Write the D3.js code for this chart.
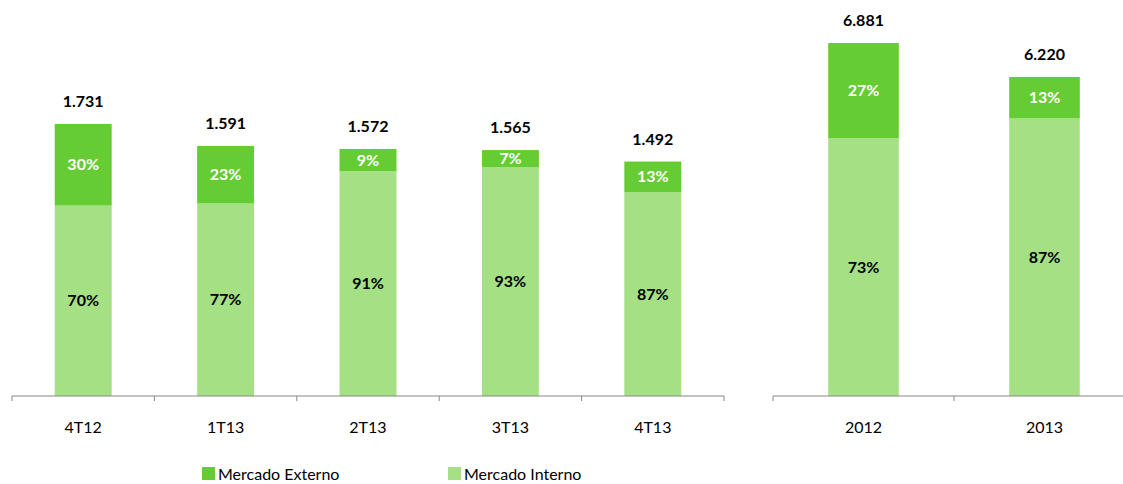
<!DOCTYPE html>
<html>
<head>
<meta charset="utf-8">
<script src="https://cdn.jsdelivr.net/npm/d3@7"></script>
<style>
  body { margin: 0; background: #fff; overflow: hidden; }
  text { font-family: Lato, Carlito, 'Open Sans', sans-serif; }
</style>
</head>
<body>
<div id="container"></div>
<script>
// quarterly panel
const quarters = ['4T12', '1T13', '2T13', '3T13', '4T13'];
const quarterTotals = [1.731, 1.591, 1.572, 1.565, 1.492];
const quarterExterno = [30, 23, 9, 7, 13];
const quarterInterno = [70, 77, 91, 93, 87];
const quarterTotalLabels = ['1.731', '1.591', '1.572', '1.565', '1.492'];

// yearly panel
const years = ['2012', '2013'];
const yearTotals = [6.881, 6.220];
const yearExterno = [27, 13];
const yearInterno = [73, 87];
const yearTotalLabels = ['6.881', '6.220'];

const series = ['Mercado Externo', 'Mercado Interno'];

const width = 1123;
const height = 484;
const baseY = 396;

//colors
const darkGreen = '#66cc33';
const lightGreen = '#a6e085';
const axisColor = '#868686';

let svg = d3.select('#container')
  .append('svg')
  .attr('width', width)
  .attr('height', height);

function panel(cats, totals, ext, int, totalLabels, x0, x1, yMax, barPad){
  let x = d3.scaleBand().domain(cats).range([x0, x1]).paddingInner(barPad).paddingOuter(barPad/2);
  let xAxisScale = d3.scaleBand().domain(cats).range([x0, x1]);
  let y = d3.scaleLinear().domain([0, yMax]).range([baseY, 0]);

  let rows = cats.map(function(c, i){
    let interno = totals[i]*int[i]/100;
    return {cat: c, total: totals[i], interno: interno, ext: ext[i], int: int[i], label: totalLabels[i]};
  });

  let g = svg.append('g');

  // interno (bottom)
  g.selectAll('.interno').data(rows).enter()
    .append('rect')
    .attr('class', 'interno')
    .attr('x', d => x(d.cat))
    .attr('width', x.bandwidth())
    .attr('y', d => y(d.interno))
    .attr('height', d => baseY - y(d.interno))
    .style('fill', lightGreen);

  // externo (top)
  g.selectAll('.externo').data(rows).enter()
    .append('rect')
    .attr('class', 'externo')
    .attr('x', d => x(d.cat))
    .attr('width', x.bandwidth())
    .attr('y', d => y(d.total))
    .attr('height', d => y(d.interno) - y(d.total))
    .style('fill', darkGreen);

  // percent labels
  g.selectAll('.extLabel').data(rows).enter()
    .append('text')
    .attr('x', d => x(d.cat) + x.bandwidth()/2)
    .attr('y', d => (y(d.total) + y(d.interno))/2)
    .attr('dy', '0.35em')
    .attr('text-anchor', 'middle')
    .style('font-size', '16px')
    .style('font-weight', 'bold')
    .style('fill', '#fff')
    .text(d => d.ext + '%');

  g.selectAll('.intLabel').data(rows).enter()
    .append('text')
    .attr('x', d => x(d.cat) + x.bandwidth()/2)
    .attr('y', d => (y(d.interno) + baseY)/2)
    .attr('dy', '0.35em')
    .attr('text-anchor', 'middle')
    .style('font-size', '16px')
    .style('font-weight', 'bold')
    .style('fill', '#000')
    .text(d => d.int + '%');

  // totals
  g.selectAll('.totLabel').data(rows).enter()
    .append('text')
    .attr('x', d => x(d.cat) + x.bandwidth()/2)
    .attr('y', d => y(d.total) - 17)
    .attr('text-anchor', 'middle')
    .style('font-size', '16px')
    .style('font-weight', 'bold')
    .style('fill', '#000')
    .text(d => d.label);

  // axis
  let axis = g.append('g').attr('transform', 'translate(0,' + baseY + ')');
  axis.append('line')
    .attr('x1', x0).attr('x2', x1)
    .attr('y1', 0).attr('y2', 0)
    .style('stroke', axisColor);
  let tickPos = cats.map(c => xAxisScale(c)).concat([x1]);
  axis.selectAll('.tick').data(tickPos).enter()
    .append('line')
    .attr('x1', d => d).attr('x2', d => d)
    .attr('y1', 0).attr('y2', 5)
    .style('stroke', axisColor);
  axis.selectAll('.catLabel').data(cats).enter()
    .append('text')
    .attr('x', d => xAxisScale(d) + xAxisScale.bandwidth()/2)
    .attr('y', 37)
    .attr('text-anchor', 'middle')
    .style('font-size', '16px')
    .style('fill', '#000')
    .text(d => d);
}

panel(quarters, quarterTotals, quarterExterno, quarterInterno, quarterTotalLabels, 12, 724, 2.52, 0.6);
panel(years, yearTotals, yearExterno, yearInterno, yearTotalLabels, 773, 1135, 7.72, 0.61);

// legend
let legendX = [202, 448];
let legendColors = [darkGreen, lightGreen];
let legend = svg.selectAll('.legend').data(series).enter()
  .append('g')
  .attr('class', 'legend')
  .attr('transform', (d, i) => 'translate(' + legendX[i] + ',467)');
legend.append('rect')
  .attr('width', 13).attr('height', 13)
  .style('fill', (d, i) => legendColors[i]);
legend.append('text')
  .attr('x', 16)
  .attr('y', 7)
  .attr('dy', '0.35em')
  .style('font-size', '16px')
  .style('fill', '#000')
  .text(d => d);
</script>
</body>
</html>
